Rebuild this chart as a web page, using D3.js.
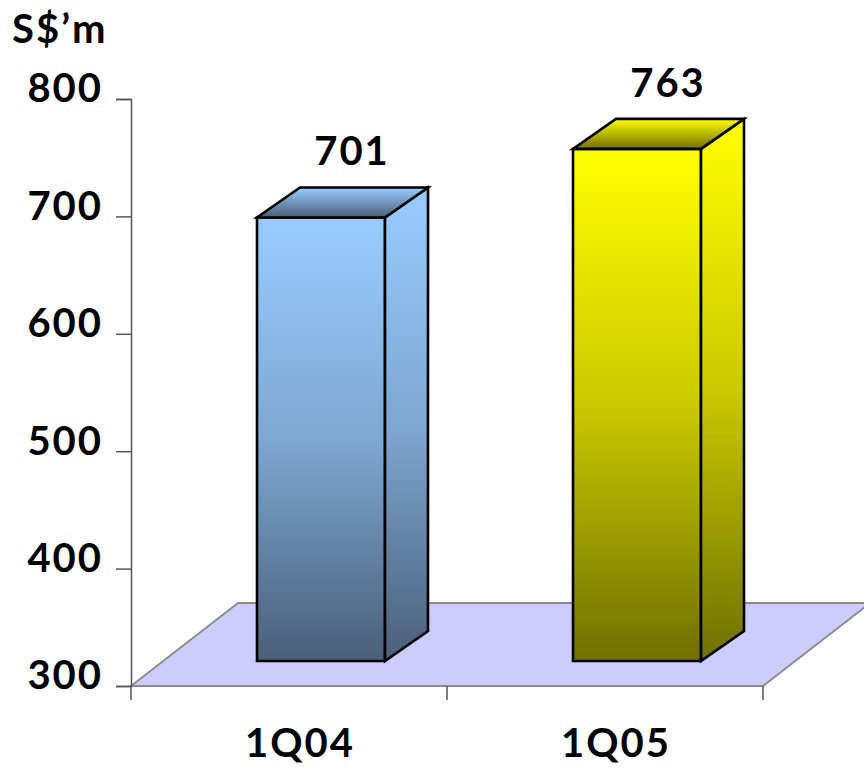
<!DOCTYPE html>
<html>
<head>
<meta charset="utf-8">
<script src="https://cdn.jsdelivr.net/npm/d3@7"></script>
<style>
  html, body { margin: 0; padding: 0; background: #ffffff; }
  svg { display: block; }
  text { font-family: "Comic Sans MS", "Lato", "DejaVu Sans", sans-serif; font-weight: 700; fill: #000; letter-spacing: 2px; }
</style>
</head>
<body>
<svg id="chart" width="864" height="770"></svg>
<script>
// Quarterly figures in S$ million
const categories = ["1Q04", "1Q05"];
const values = [701, 763];
const tickValues = [300, 400, 500, 600, 700, 800];
const unitLabel = "S$\u2019m";

// Colour stops per bar: light (top of face) / middle / dark (bottom of face)
const barLight = ["#99ccff", "#ffff00"];
const barMid = ["#7ea7d2", "#c9c900"];
const barDark = ["#4a5f79", "#6f6f00"];

const svg = d3.select("#chart");

// Plot frame
const axisX = 131;
const floorDepth = { dx: 107, dy: -83 };   // oblique offset of the floor's back edge
const barShift = { dx: 32, dy: -25 };      // columns stand part-way back on the floor
const barDepth = { dx: 43, dy: -30 };      // thickness of each column
const barWidth = 128;

// Value scale on the front plane (axis) and on the plane where the columns stand
const y = d3.scaleLinear().domain([300, 800]).range([686, 99]);
const yBar = d3.scaleLinear().domain([300, 800]).range([y(300) + barShift.dy, y(300) + barShift.dy - 553]);

const x = d3.scaleBand().domain(categories).range([axisX, 763]).paddingInner(0).paddingOuter(0);

// Gradients
const defs = svg.append("defs");
categories.forEach((c, i) => {
  const vg = defs.append("linearGradient").attr("id", "face" + i)
    .attr("x1", 0).attr("y1", 0).attr("x2", 0).attr("y2", 1);
  vg.append("stop").attr("offset", "0%").attr("stop-color", barLight[i]);
  vg.append("stop").attr("offset", "50%").attr("stop-color", barMid[i]);
  vg.append("stop").attr("offset", "100%").attr("stop-color", barDark[i]);

  const tg = defs.append("linearGradient").attr("id", "top" + i)
    .attr("x1", 0).attr("y1", 0).attr("x2", 0).attr("y2", 1);
  tg.append("stop").attr("offset", "0%").attr("stop-color", barLight[i]);
  tg.append("stop").attr("offset", "100%").attr("stop-color", barDark[i]);
});

// Floor
const y0 = y(300);
const xL = x.range()[0], xR = x.range()[1];
svg.append("polygon")
  .attr("points", [
    [xL, y0], [xR, y0],
    [xR + floorDepth.dx, y0 + floorDepth.dy],
    [xL + floorDepth.dx, y0 + floorDepth.dy]
  ].map(p => p.join(",")).join(" "))
  .attr("fill", "#ccccff")
  .attr("stroke", "#8c8c8c")
  .attr("stroke-width", 2)
  .attr("stroke-linejoin", "round");

// Value axis
const yAxis = d3.axisLeft(y).tickValues(tickValues).tickSize(15).tickPadding(13).tickFormat(d3.format("d"));
const gy = svg.append("g").attr("transform", `translate(${axisX},0)`).call(yAxis);
gy.select(".domain").attr("stroke", "#555").attr("stroke-width", 1.5);
gy.selectAll(".tick line").attr("stroke", "#555").attr("stroke-width", 1.5);
gy.selectAll(".tick text")
  .attr("font-size", 40)
  .attr("font-family", null)
  .attr("fill", "#000")
  .attr("dy", "0.32em")
  .attr("y", -10);

// Category axis ticks at band boundaries
const bounds = [xL].concat(categories.map(c => x(c) + x.bandwidth()));
svg.append("g").selectAll("line").data(bounds).join("line")
  .attr("x1", d => d).attr("x2", d => d)
  .attr("y1", y0).attr("y2", y0 + 14)
  .attr("stroke", "#555").attr("stroke-width", 1.5);

svg.append("g").selectAll("text").data(categories).join("text")
  .attr("x", d => x(d) + x.bandwidth() / 2 + 11)
  .attr("y", 757)
  .attr("text-anchor", "middle")
  .attr("font-size", 40)
  .text(d => d);

// Columns
const bars = svg.append("g").selectAll("g").data(categories.map((c, i) => ({ c, v: values[i], i }))).join("g");

bars.each(function (d) {
  const g = d3.select(this);
  const x0 = x(d.c) + (x.bandwidth() - barWidth) / 2 + barShift.dx;
  const x1 = x0 + barWidth;
  const yb = yBar(300);
  const yt = yBar(d.v);
  const pts = a => a.map(p => p.join(",")).join(" ");
  const style = sel => sel.attr("stroke", "#000").attr("stroke-width", 2.6).attr("stroke-linejoin", "miter");

  // front face
  g.append("polygon").attr("points", pts([[x0, yt], [x1, yt], [x1, yb], [x0, yb]]))
    .attr("fill", `url(#face${d.i})`).call(style);
  // side face
  g.append("polygon").attr("points", pts([
    [x1, yt], [x1 + barDepth.dx, yt + barDepth.dy],
    [x1 + barDepth.dx, yb + barDepth.dy], [x1, yb]
  ])).attr("fill", `url(#face${d.i})`).call(style);
  // top face
  g.append("polygon").attr("points", pts([
    [x0, yt], [x1, yt],
    [x1 + barDepth.dx, yt + barDepth.dy], [x0 + barDepth.dx, yt + barDepth.dy]
  ])).attr("fill", `url(#top${d.i})`).call(style);

  // value label
  g.append("text")
    .attr("x", (x0 + x1) / 2 + 31)
    .attr("y", yt - 52)
    .attr("text-anchor", "middle")
    .attr("font-size", 40)
    .text(d.v);
});

// Unit label
svg.append("text").attr("x", 12).attr("y", 43).attr("font-size", 40).text(unitLabel);
</script>
</body>
</html>
